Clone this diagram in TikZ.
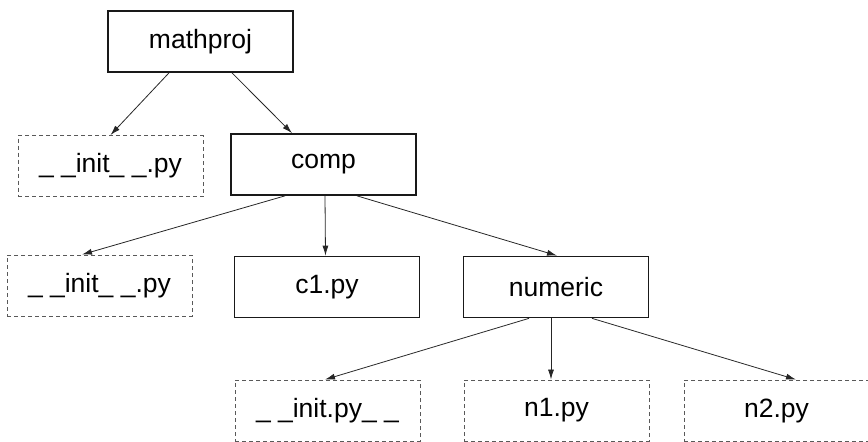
\documentclass[tikz,border=0pt]{standalone}
\usepackage{fontspec}
\setmainfont{Liberation Sans}
\usetikzlibrary{arrows.meta}
\begin{document}
\begin{tikzpicture}[x=1pt,y=-1pt,font=\fontsize{26.5}{30}\selectfont,
  pkg/.style={draw=black!90,line width=1.7pt,minimum width=185pt,minimum height=61pt,inner sep=0pt},
  modfile/.style={draw=black!65,dashed,dash pattern=on 4pt off 3pt,line width=0.9pt,minimum width=185pt,minimum height=61pt,inner sep=0pt},
  edge/.style={draw=black!85,line width=0.8pt,-{Latex[length=10pt,width=6pt]}}]
\useasboundingbox (0,0) rectangle (868,442);

\node[pkg] (mathproj) at (200.5,41.5) {mathproj};
\node[modfile] (init1) at (110.5,166) {\_ \_init\_ \_.py};
\node[pkg] (comp) at (323.5,164.5) {comp};

\node[modfile] (init2) at (99.5,285.5) {\_ \_init\_ \_.py};
\node[pkg] (c1) at (327,287) {c1.py};
\node[pkg] (numeric) at (556,287) {numeric};

\node[modfile] (init3) at (327.5,410.5) {\_ \_init.py\_ \_};
\node[modfile] (n1) at (556.5,410.5) {n1.py};
\node[modfile] (n2) at (776.5,410.5) {n2.py};

\draw[edge] ([xshift=-31.5pt]mathproj.south) -- (init1.north);
\draw[edge] ([xshift=31.5pt]mathproj.south) -- ([xshift=-31.5pt]comp.north);

\draw[edge] ([xshift=-38.5pt]comp.south) -- ([xshift=-17.5pt]init2.north);
\draw[edge] ([xshift=1.5pt]comp.south) -- ([xshift=-1.5pt]c1.north);
\draw[edge] ([xshift=33.5pt]comp.south) -- ([xshift=1pt]numeric.north);

\draw[edge] ([xshift=-27pt]numeric.south) -- ([xshift=-2.5pt]init3.north);
\draw[edge] ([xshift=-5pt]numeric.south) -- ([xshift=-5.5pt]n1.north);
\draw[edge] ([xshift=36pt]numeric.south) -- ([xshift=19.5pt]n2.north);
\end{tikzpicture}
\end{document}
